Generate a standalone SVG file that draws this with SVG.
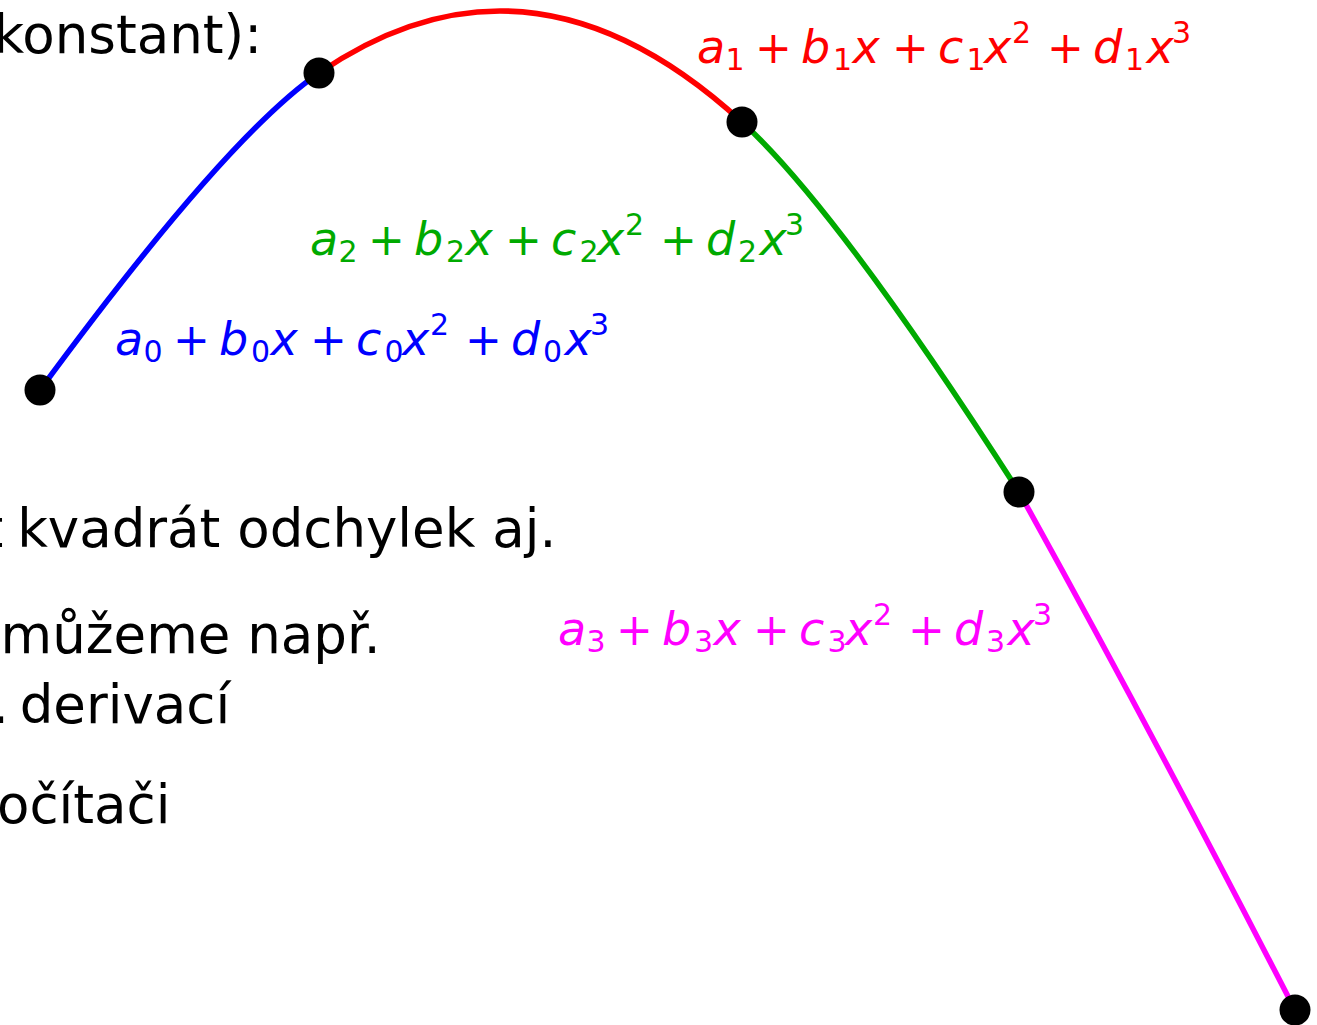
<svg xmlns="http://www.w3.org/2000/svg" width="1317" height="1025" viewBox="0 0 1317 1025">
<style>
.body{font-family:"DejaVu Sans",sans-serif;font-size:53px;fill:#000}
.m{font-family:"DejaVu Sans",sans-serif;font-size:46px;font-style:italic}
.m .s{font-size:30px;font-style:normal}
.m .o{font-size:44px;font-style:normal}
.seg{fill:none;stroke-width:5.5}
.dot{fill:#000}
</style>
<rect width="1317" height="1025" fill="#fff"/>
<g id="text-block">
<text class="body" x="-6.5" y="53">konstant):</text>
<text class="body" x="-17.5" y="547">t<tspan dx="-3"> kvadrát odchylek aj.</tspan></text>
<text class="body" x="0.5" y="653">můžeme např.</text>
<text class="body" x="-8" y="723">.<tspan dx="-6"> derivací</tspan></text>
<text class="body" x="-3" y="823">očítači</text>
</g>
<g id="connectors">
<path id="seg0" class="seg" stroke="#0000ff" d="M40,390 Q226.5,136.4 319,73"/>
<path id="seg1" class="seg" stroke="#ff0000" d="M319,73 Q530.5,-72 742,122"/>
<path id="seg2" class="seg" stroke="#00aa00" d="M742,122 Q838.3,210.1 1019,492"/>
<path id="seg3" class="seg" stroke="#ff00ff" d="M1019,492 Q1150,728 1295,1010"/>
</g>
<g id="labels">
<g id="label0" transform="translate(115,355)" fill="#0000ff">
<text class="m"><tspan x="0">a</tspan><tspan class="s" x="28.5" y="7">0</tspan><tspan class="o" x="58" y="0">+</tspan><tspan x="104">b</tspan><tspan class="s" x="136" y="7">0</tspan><tspan x="155.5" y="0">x</tspan><tspan class="o" x="195">+</tspan><tspan x="241">c</tspan><tspan class="s" x="269.5" y="7">0</tspan><tspan x="287" y="0">x</tspan><tspan class="s" x="315" y="-20">2</tspan><tspan class="o" x="350" y="0">+</tspan><tspan x="396">d</tspan><tspan class="s" x="428" y="7">0</tspan><tspan x="449.5" y="0">x</tspan><tspan class="s" x="475" y="-20">3</tspan></text>
</g>
<g id="label1" transform="translate(697,63)" fill="#ff0000">
<text class="m"><tspan x="0">a</tspan><tspan class="s" x="28.5" y="7">1</tspan><tspan class="o" x="58" y="0">+</tspan><tspan x="104">b</tspan><tspan class="s" x="136" y="7">1</tspan><tspan x="155.5" y="0">x</tspan><tspan class="o" x="195">+</tspan><tspan x="241">c</tspan><tspan class="s" x="269.5" y="7">1</tspan><tspan x="287" y="0">x</tspan><tspan class="s" x="315" y="-20">2</tspan><tspan class="o" x="350" y="0">+</tspan><tspan x="396">d</tspan><tspan class="s" x="428" y="7">1</tspan><tspan x="449.5" y="0">x</tspan><tspan class="s" x="475" y="-20">3</tspan></text>
</g>
<g id="label2" transform="translate(310,255)" fill="#00aa00">
<text class="m"><tspan x="0">a</tspan><tspan class="s" x="28.5" y="7">2</tspan><tspan class="o" x="58" y="0">+</tspan><tspan x="104">b</tspan><tspan class="s" x="136" y="7">2</tspan><tspan x="155.5" y="0">x</tspan><tspan class="o" x="195">+</tspan><tspan x="241">c</tspan><tspan class="s" x="269.5" y="7">2</tspan><tspan x="287" y="0">x</tspan><tspan class="s" x="315" y="-20">2</tspan><tspan class="o" x="350" y="0">+</tspan><tspan x="396">d</tspan><tspan class="s" x="428" y="7">2</tspan><tspan x="449.5" y="0">x</tspan><tspan class="s" x="475" y="-20">3</tspan></text>
</g>
<g id="label3" transform="translate(558,645)" fill="#ff00ff">
<text class="m"><tspan x="0">a</tspan><tspan class="s" x="28.5" y="7">3</tspan><tspan class="o" x="58" y="0">+</tspan><tspan x="104">b</tspan><tspan class="s" x="136" y="7">3</tspan><tspan x="155.5" y="0">x</tspan><tspan class="o" x="195">+</tspan><tspan x="241">c</tspan><tspan class="s" x="269.5" y="7">3</tspan><tspan x="287" y="0">x</tspan><tspan class="s" x="315" y="-20">2</tspan><tspan class="o" x="350" y="0">+</tspan><tspan x="396">d</tspan><tspan class="s" x="428" y="7">3</tspan><tspan x="449.5" y="0">x</tspan><tspan class="s" x="475" y="-20">3</tspan></text>
</g>
</g>
<g id="nodes">
<circle id="p0" class="dot" cx="40" cy="390" r="15.5"/>
<circle id="p1" class="dot" cx="319" cy="73" r="15.5"/>
<circle id="p2" class="dot" cx="742" cy="122" r="15.5"/>
<circle id="p3" class="dot" cx="1019" cy="492" r="15.5"/>
<circle id="p4" class="dot" cx="1295" cy="1010" r="15.5"/>
</g>
</svg>
